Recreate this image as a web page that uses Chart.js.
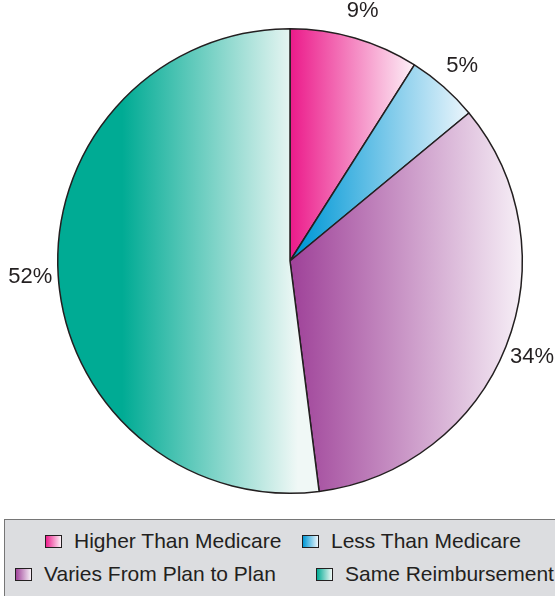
<!DOCTYPE html>
<html>
<head>
<meta charset="utf-8">
<script src="https://cdn.jsdelivr.net/npm/chart.js@4"></script>
<style>
  html, body { margin: 0; padding: 0; background: #fff; overflow: hidden; }
  body { width: 555px; height: 596px; position: relative; font-family: "Liberation Sans", Arial, sans-serif; }
  #wrap { position: absolute; left: 0; top: 0; width: 555px; height: 515px; }
  #legend {
    position: absolute; left: 4px; top: 519px; width: 570px; height: 90px;
    background: #dcdde0; border: 1.5px solid #767676; box-sizing: border-box;
  }
  .item { position: absolute; font-size: 21px; color: #231f20; line-height: 24px; white-space: nowrap; padding-left: 29px; }
  .sw { position: absolute; left: 0; top: 6px; width: 15px; height: 11px; border: 1px solid #231f20; }
</style>
</head>
<body>
<div id="wrap"><canvas id="myChart"></canvas></div>
<div id="legend"></div>
<script>
// Dati del grafico
var labels = ["Higher Than Medicare", "Less Than Medicare", "Varies From Plan to Plan", "Same Reimbursement"];
var values = [9, 5, 34, 52];
var pctLabels = ["9%", "5%", "34%", "52%"];

// Colori: scuro a sinistra, chiaro a destra
var darkColors = ["#ec1e8c", "#0098d6", "#a0449a", "#00ab94"];
var lightColors = ["#fdf2f8", "#edf6fc", "#f7f0f7", "#f0f8f6"];
var solidStop = [0.02, 0.05, 0.02, 0.27];

// Gradiente orizzontale calcolato sul riquadro della fetta
function sliceGradient(ctx) {
    var chart = ctx.chart, i = ctx.dataIndex, area = chart.chartArea;
    if (!area) return darkColors[i];
    var cx = (area.left + area.right) / 2;
    var r = Math.min(area.right - area.left, area.bottom - area.top) / 2;
    var total = values.reduce(function (a, b) { return a + b; }, 0);
    var before = 0;
    for (var k = 0; k < i; k++) before += values[k];
    var a0 = -Math.PI / 2 + before / total * 2 * Math.PI;
    var a1 = a0 + values[i] / total * 2 * Math.PI;
    var xs = [cx];
    for (var s = 0; s <= 64; s++) {
        var a = a0 + (a1 - a0) * s / 64;
        xs.push(cx + r * Math.cos(a));
    }
    var x0 = Math.min.apply(null, xs), x1 = Math.max.apply(null, xs);
    // la fetta di sinistra sfuma fino al centro
    if (x0 < cx - 1) x1 = Math.min(x1, cx + 8);
    var g = chart.ctx.createLinearGradient(x0, 0, x1, 0);
    g.addColorStop(0, darkColors[i]);
    g.addColorStop(solidStop[i], darkColors[i]);
    g.addColorStop(1, lightColors[i]);
    return g;
}

// Etichette percentuali fuori dalla torta
var outsideLabels = {
    id: "outsideLabels",
    afterDatasetsDraw: function (chart) {
        var c = chart.ctx;
        var meta = chart.getDatasetMeta(0);
        c.save();
        c.font = "22px 'Liberation Sans', Arial, sans-serif";
        c.fillStyle = "#231f20";
        c.textAlign = "center";
        c.textBaseline = "middle";
        meta.data.forEach(function (arc, i) {
            var mid = (arc.startAngle + arc.endAngle) / 2;
            var d = arc.outerRadius + 28;
            c.fillText(pctLabels[i], arc.x + d * Math.cos(mid), arc.y + d * Math.sin(mid));
        });
        c.restore();
    }
};

var ctx = document.getElementById("myChart").getContext("2d");
const pie = new Chart(ctx, {
    type: "pie",
    data: {
        labels: labels,
        datasets: [{
            data: values,
            backgroundColor: sliceGradient,
            borderColor: "#231f20",
            borderWidth: 1.5,
            borderAlign: "center"
        }]
    },
    options: {
        responsive: true,
        maintainAspectRatio: false,
        animation: false,
        layout: { padding: { left: 57, right: 32, top: 28, bottom: 21 } },
        plugins: {
            legend: { display: false },
            tooltip: { enabled: false }
        }
    },
    plugins: [outsideLabels]
});

// Legenda in HTML
var legendPos = [[40, 9], [297, 9], [10, 42], [311, 42]];
var leg = document.getElementById("legend");
labels.forEach(function (lab, i) {
    var it = document.createElement("div");
    it.className = "item";
    it.style.left = legendPos[i][0] + "px";
    it.style.top = legendPos[i][1] + "px";
    var sw = document.createElement("span");
    sw.className = "sw";
    sw.style.background = "linear-gradient(to right, " + darkColors[i] + ", " + lightColors[i] + ")";
    it.appendChild(sw);
    it.appendChild(document.createTextNode(lab));
    leg.appendChild(it);
});
</script>
</body>
</html>
